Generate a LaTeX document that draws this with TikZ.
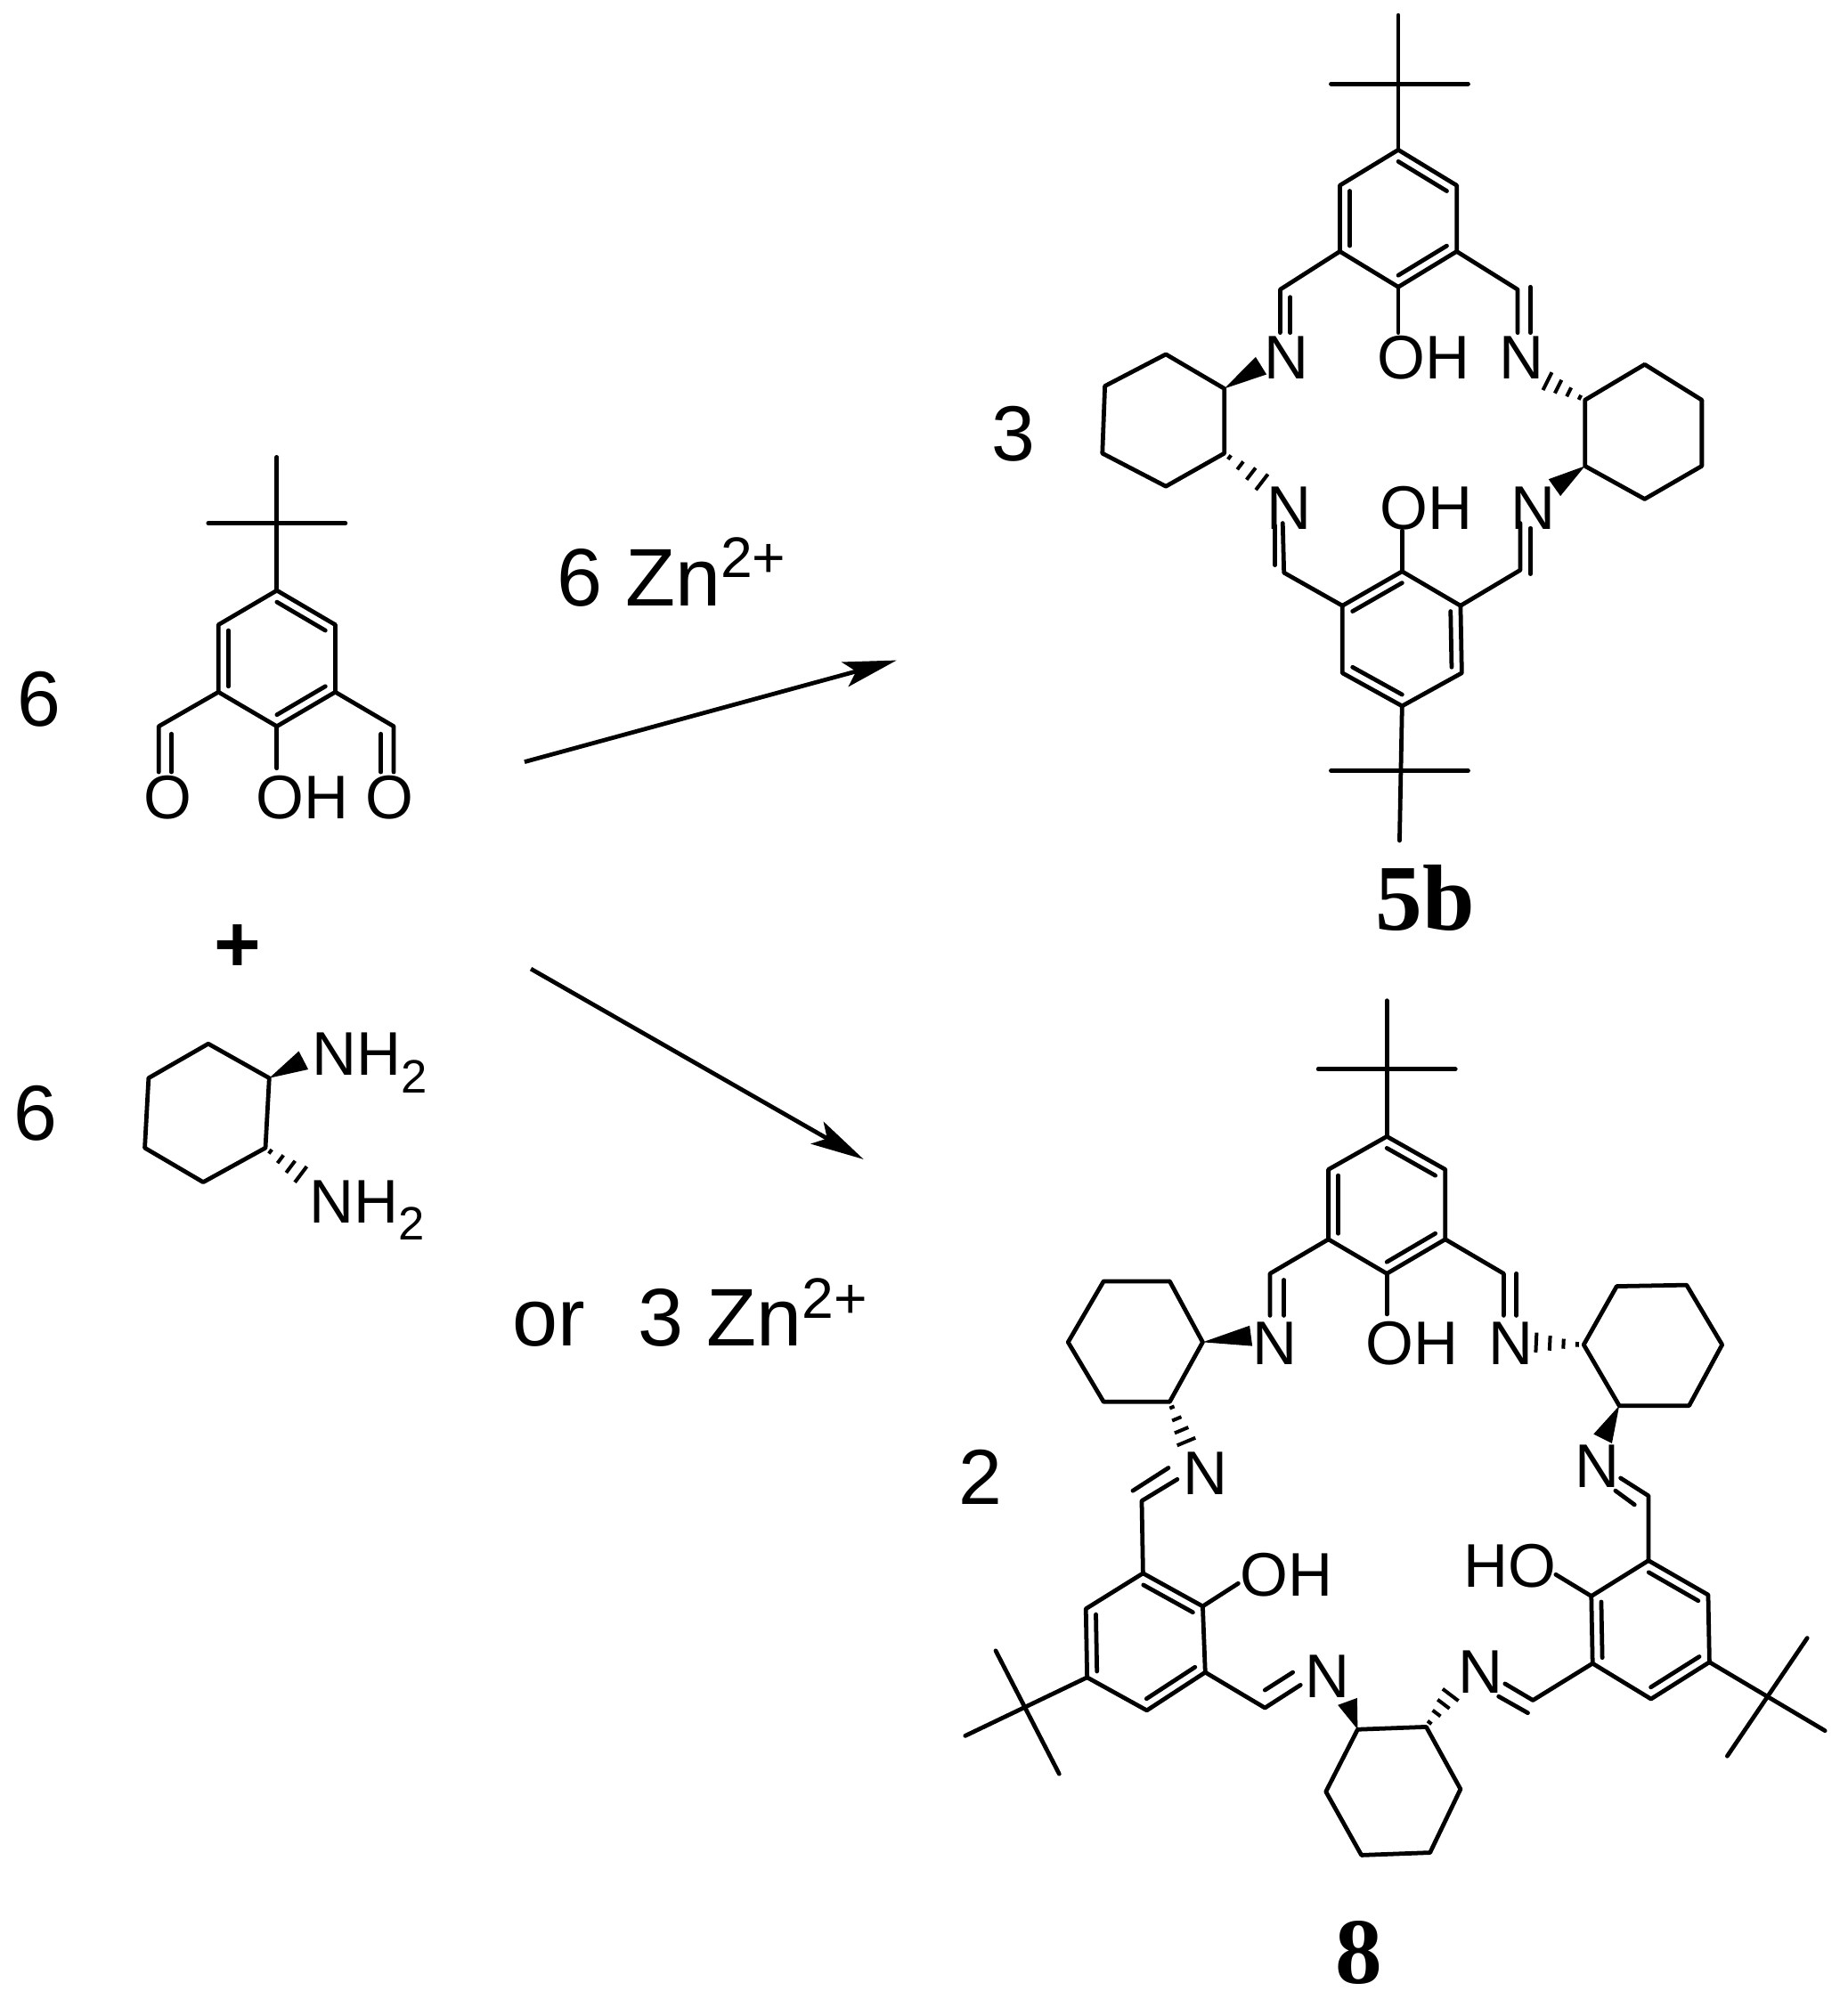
\documentclass[tikz,border=0pt]{standalone}
\usepackage{fontspec}
\setmainfont{Liberation Sans}
\newfontfamily\cmpdfamily{Liberation Serif}
\usetikzlibrary{arrows.meta,calc}
\tikzset{
	bond/.style={line width=0.95pt,line cap=round,line join=round},
	atom/.style={inner sep=0pt,font=\fontsize{13.8}{15}\selectfont},
	count/.style={inner sep=0pt,font=\fontsize{17.5}{20}\selectfont},
	reagent/.style={inner sep=0pt,font=\fontsize{18.3}{20}\selectfont},
	cmpd/.style={inner sep=0pt,font=\fontsize{21}{24}\selectfont\cmpdfamily\bfseries},
	reaction/.style={line width=0.95pt,-{Stealth[length=0.42cm,width=0.2cm,inset=0.09cm]}}
}
% named points, ring drawn in the order top, clockwise
\newcommand{\points}[1]{\foreach \n/\x/\y in {#1} \coordinate (\n) at (\x,\y);}
\newcommand{\sixring}[1]{
	\coordinate (#1c) at ($(#11)!.5!(#14)$);
	\draw[bond] (#11) -- (#12) -- (#13) -- (#14) -- (#15) -- (#16) -- cycle;
}
\newcommand{\inbond}[3]{\draw[bond] ($(#1#2)!.17!(#1c)$) -- ($(#1#3)!.17!(#1c)$);}
\newcommand{\wedgebond}[2]{\fill (#1) -- ($(#2)!2.3pt!90:(#1)$) -- ($(#2)!2.3pt!-90:(#1)$) -- cycle;}
\newcommand{\hashbond}[2]{
	\foreach \t in {0.12,0.37,0.62,0.87}{
		\pgfmathsetmacro\w{\t*2.2+0.3}
		\draw[line width=0.8pt] ($(#1)!\t!(#2)!\w pt!90:(#2)$) -- ($(#1)!\t!(#2)!\w pt!-90:(#2)$);
	}
}
\newcommand{\subtwo}{\raisebox{-0.28em}{\fontsize{10.5}{11}\selectfont 2}}
\begin{document}
\begin{tikzpicture}[x=0.01cm,y=-0.01cm]
	\useasboundingbox (0,0) rectangle (1455,1568);

	% reactants
	\points{a1/218/465,a2/264/492,a3/264/545,a4/218/572,a5/172/545,a6/172/492,
		atop/218/360,aleft/164/412,aright/272/412,
		ca/125/572,cb/310/572,coa/125/608,cob/310/608,
		coa2a/135/578,coa2b/135/608,cob2a/300/578,cob2b/300/608,oha/218/605}
	\sixring{a}
	\inbond{a}{6}{5} \inbond{a}{1}{2} \inbond{a}{4}{3}
	\draw[bond] (atop) -- (a1);
	\draw[bond] (aleft) -- (aright);
	\draw[bond] (a5) -- (ca) -- (coa);
	\draw[bond] (a3) -- (cb) -- (cob);
	\draw[bond] (coa2a) -- (coa2b);
	\draw[bond] (cob2a) -- (cob2b);
	\draw[bond] (a4) -- (oha);
	\node[atom] (oa) at (132,628) {O};
	\node[atom] (ob) at (307,628) {O};
	\node[atom] (ohtop) at (238,628) {OH};
	\node[count] (nsix) at (31,551) {6};
	\node[inner sep=0pt,font=\fontsize{18}{20}\selectfont\bfseries] (plus) at (187,747) {+};
	\node[count] (nsixb) at (28,877) {6};

	\points{d1/164/822,d2/212/849,d3/209/904,d4/160/931,d5/114/904,d6/117/849,
		dw/239/835,dh/241/928}
	\sixring{d}
	\wedgebond{d2}{dw}
	\hashbond{d3}{dh}
	\node[atom,anchor=base west] (nha) at (245,847) {NH\subtwo};
	\node[atom,anchor=base west] (nhb) at (243,963) {NH\subtwo};

	% arrows and reagents
	\points{ra/413/600,rb/706/520,rc/418/763,rd/680/913}
	\draw[reaction] (ra) -- (rb);
	\draw[reaction] (rc) -- (rd);
	\node[reagent,anchor=base west] (zna) at (438,477) {6 Zn\textsuperscript{2+}};
	\node[reagent,anchor=base west] (znb) at (403,1060) {or\hspace{0.65em}3 Zn\textsuperscript{2+}};

	% product 5b
	\points{p1/1101/118,p2/1147/146,p3/1147/198,p4/1101/226,p5/1055/198,p6/1055/146,
		ptop/1101/12,pleft/1048/66,pright/1156/66,
		pca/1008/228,pcb/1195/228,pna/1008/262,pnb/1195/262,pna2a/1016/234,pna2b/1016/262,pnb2a/1205/226,pnb2b/1205/262,poh/1101/262}
	\sixring{p}
	\inbond{p}{6}{5} \inbond{p}{1}{2} \inbond{p}{4}{3}
	\draw[bond] (ptop) -- (p1);
	\draw[bond] (pleft) -- (pright);
	\draw[bond] (p5) -- (pca) -- (pna);
	\draw[bond] (p3) -- (pcb) -- (pnb);
	\draw[bond] (pna2a) -- (pna2b);
	\draw[bond] (pnb2a) -- (pnb2b);
	\draw[bond] (p4) -- (poh);
	\node[atom] (pna1) at (1013,282) {N};
	\node[atom] (poh1) at (1121,282) {OH};
	\node[atom] (pnb1) at (1198,282) {N};

	\points{x1/918/279,x2/964/306,x3/964/357,x4/918/383,x5/868/357,x6/870/304,xw/993/288,xh/998/383,
		y1/1295/287,y2/1340/315,y3/1340/367,y4/1295/393,y5/1248/367,y6/1248/315,yh/1214/298,yw/1224/384}
	\sixring{x}
	\sixring{y}
	\wedgebond{x2}{xw}
	\hashbond{x3}{xh}
	\hashbond{y6}{yh}
	\wedgebond{y5}{yw}
	\node[count] (nthree) at (798,342) {3};

	\points{q1/1104/450,q2/1150/477,q3/1151/530,q4/1104/556,q5/1057/530,q6/1057/477,
		qbot/1102/662,qleft/1048/607,qright/1156/607,
		qca/1011/451,qcb/1197/449,qna/1010/412,qnb/1197/412,qna2a/1004/445,qna2b/1004/414,qnb2a/1205/452,qnb2b/1205/416,qoh/1104/418}
	\sixring{q}
	\inbond{q}{1}{6} \inbond{q}{2}{3} \inbond{q}{4}{5}
	\draw[bond] (qbot) -- (q4);
	\draw[bond] (qleft) -- (qright);
	\draw[bond] (q6) -- (qca) -- (qna);
	\draw[bond] (q2) -- (qcb) -- (qnb);
	\draw[bond] (qna2a) -- (qna2b);
	\draw[bond] (qnb2a) -- (qnb2b);
	\draw[bond] (q1) -- (qoh);
	\node[atom] (qna1) at (1015,400) {N};
	\node[atom] (qoh1) at (1123,400) {OH};
	\node[atom] (qnb1) at (1207,400) {N};
	\node[cmpd] (lab5b) at (1122,707) {5b};

	% product 8
	\points{s1/1092/895,s2/1138/921,s3/1138/976,s4/1092/1003,s5/1046/976,s6/1046/921,
		stop/1092/788,sleft/1038/842,sright/1146/842,
		sca/1000/1003,scb/1184/1003,sna/1000/1036,snb/1184/1036,sna2a/1011/1008,sna2b/1011/1036,snb2a/1194/1003,snb2b/1194/1036,soh/1092/1035}
	\sixring{s}
	\inbond{s}{6}{5} \inbond{s}{1}{2} \inbond{s}{4}{3}
	\draw[bond] (stop) -- (s1);
	\draw[bond] (sleft) -- (sright);
	\draw[bond] (s5) -- (sca) -- (sna);
	\draw[bond] (s3) -- (scb) -- (snb);
	\draw[bond] (sna2a) -- (sna2b);
	\draw[bond] (snb2a) -- (snb2b);
	\draw[bond] (s4) -- (soh);
	\node[atom] (sn1) at (1004,1058) {N};
	\node[atom] (soh1) at (1112,1058) {OH};
	\node[atom] (sn2) at (1190,1058) {N};

	\points{l1/869/1009,l2/921/1009,l3/947/1057,l4/921/1104,l5/869/1104,l6/841/1057,lw/985/1052,lh/936/1140,
		r1/1273/1013,r2/1328/1012,r3/1356/1059,r4/1330/1107,r5/1275/1107,r6/1247/1059,rh/1204/1057,rw/1262/1133,
		b1/1069/1362,b2/1123/1360,b3/1150/1409,b4/1126/1459,b5/1072/1461,b6/1044/1411,bw/1061/1340,bh/1145/1331}
	\draw[bond] (l1) -- (l2) -- (l3) -- (l4) -- (l5) -- (l6) -- cycle;
	\draw[bond] (r1) -- (r2) -- (r3) -- (r4) -- (r5) -- (r6) -- cycle;
	\draw[bond] (b1) -- (b2) -- (b3) -- (b4) -- (b5) -- (b6) -- cycle;
	\wedgebond{l3}{lw}
	\hashbond{l4}{lh}
	\hashbond{r6}{rh}
	\wedgebond{r5}{rw}
	\wedgebond{b1}{bw}
	\hashbond{b2}{bh}
	\node[atom] (ln1) at (949,1160) {N};
	\node[atom] (rn1) at (1258,1155) {N};
	\node[atom] (bn1) at (1045,1320) {N};
	\node[atom] (bn2) at (1166,1317) {N};
	\node[count] (ntwo) at (772,1163) {2};

	\points{t1/900/1239,t2/947/1265,t3/949/1317,t4/903/1347,t5/856/1321,t6/855/1267,
		tca/899/1182,tn/927/1165,tn2a/892/1174,tn2b/920/1156,
		tcb/996/1345,tm/1024/1327,tm2a/996/1331,tm2b/1018/1317,toh/975/1247,
		tend/760/1367,tup/784/1300,tdown/834/1397}
	\sixring{t}
	\inbond{t}{1}{2} \inbond{t}{6}{5} \inbond{t}{3}{4}
	\draw[bond] (t1) -- (tca) -- (tn);
	\draw[bond] (tn2a) -- (tn2b);
	\draw[bond] (t3) -- (tcb) -- (tm);
	\draw[bond] (tm2a) -- (tm2b);
	\draw[bond] (t2) -- (toh);
	\draw[bond] (t5) -- (tend);
	\draw[bond] (tup) -- (tdown);
	\node[atom] (toh1) at (1013,1240) {OH};

	\points{u1/1298/1229,u2/1345/1256,u3/1346/1309,u4/1300/1338,u5/1254/1310,u6/1253/1257,
		uca/1298/1178,un/1276/1164,un2a/1287/1185,un2b/1272/1174,
		ucb/1207/1339,um/1185/1326,um2a/1203/1349,um2b/1180/1336,uoh/1225/1240,
		uend/1437/1363,uup/1423/1290,udown/1360/1383}
	\sixring{u}
	\inbond{u}{1}{2} \inbond{u}{6}{5} \inbond{u}{4}{3}
	\draw[bond] (u1) -- (uca) -- (un);
	\draw[bond] (un2a) -- (un2b);
	\draw[bond] (u5) -- (ucb) -- (um);
	\draw[bond] (um2a) -- (um2b);
	\draw[bond] (u6) -- (uoh);
	\draw[bond] (u3) -- (uend);
	\draw[bond] (uup) -- (udown);
	\node[atom] (uoh1) at (1189,1233) {HO};
	\node[cmpd] (lab8) at (1070,1538) {8};
\end{tikzpicture}
\end{document}
